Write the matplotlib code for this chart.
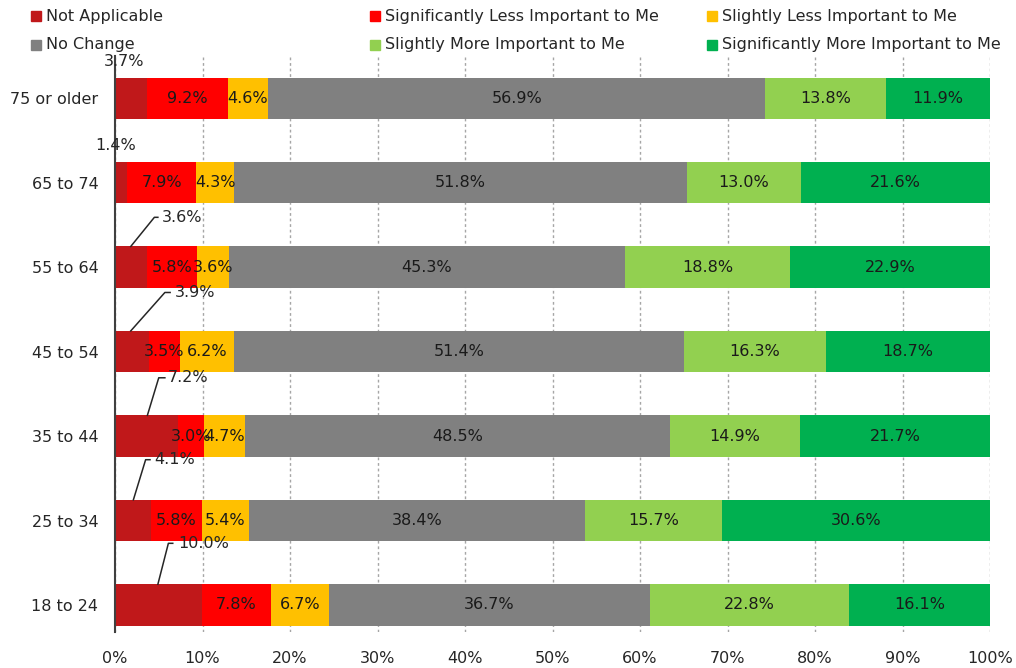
import numpy as np
import matplotlib.pyplot as plt
from matplotlib.patches import Rectangle

# data
categories = ['75 or older', '65 to 74', '55 to 64', '45 to 54', '35 to 44', '25 to 34', '18 to 24']
series = ['Not Applicable', 'Significantly Less Important to Me', 'Slightly Less Important to Me',
          'No Change', 'Slightly More Important to Me', 'Significantly More Important to Me']
not_applicable = [3.7, 1.4, 3.6, 3.9, 7.2, 4.1, 10.0]
sig_less = [9.2, 7.9, 5.8, 3.5, 3.0, 5.8, 7.8]
slight_less = [4.6, 4.3, 3.6, 6.2, 4.7, 5.4, 6.7]
no_change = [56.9, 51.8, 45.3, 51.4, 48.5, 38.4, 36.7]
slight_more = [13.8, 13.0, 18.8, 16.3, 14.9, 15.7, 22.8]
sig_more = [11.9, 21.6, 22.9, 18.7, 21.7, 30.6, 16.1]
x_ticks = [0, 10, 20, 30, 40, 50, 60, 70, 80, 90, 100]

colors = ['#C0181A', '#FF0000', '#FFC000', '#808080', '#92D050', '#00B050']

# layout of the "Not Applicable" callouts (data units)
# (x_start, x_elbow, x_end, x_label, dy_label, ha)
na_layout = {
    '75 or older': (None, None, None, 1.0, 0.43, 'center'),
    '65 to 74': (None, None, None, 0.1, 0.44, 'center'),
    '55 to 64': (1.8, 4.5, 4.9, 5.3, 0.59, 'left'),
    '45 to 54': (1.8, 5.7, 6.3, 6.8, 0.70, 'left'),
    '35 to 44': (3.7, 5.0, 5.7, 6.0, 0.69, 'left'),
    '25 to 34': (2.1, 3.5, 4.0, 4.5, 0.72, 'left'),
    '18 to 24': (4.9, 6.1, 6.6, 7.2, 0.73, 'left'),
}

FS = 11.5
plt.rcParams['font.family'] = 'DejaVu Sans'

raw = np.array([not_applicable, sig_less, slight_less, no_change, slight_more, sig_more])
values = raw / raw.sum(axis=0) * 100  # 100% stacked

fig = plt.figure(figsize=(10.16, 6.68), dpi=100)
ax = fig.add_axes([115 / 1016, 36 / 668, 875 / 1016, 576 / 668])

n = len(categories)
ypos = np.arange(n)[::-1]
bar_h = 0.49
left = np.zeros(n)
for s, name in enumerate(series):
    vals = values[s]
    ax.barh(ypos, vals, left=left, height=bar_h, color=colors[s], label=name, zorder=2)
    for i in range(n):
        if s == 0:
            xs, xe, xend, xl, dy, ha = na_layout[categories[i]]
            yl = ypos[i] + dy
            if xs is not None:
                ax.plot([xs, xe, xend], [ypos[i] + bar_h / 2, yl, yl], color='#262626', lw=1.1, zorder=3)
            ax.text(xl, yl, f'{raw[s][i]:.1f}%', ha=ha, va='center', fontsize=FS, color='#262626', zorder=4)
        else:
            ax.text(left[i] + vals[i] / 2, ypos[i], f'{raw[s][i]:.1f}%', ha='center', va='center',
                    fontsize=FS, color='#1a1a1a', zorder=4)
    left += vals

ax.set_xlim(0, 100)
ax.set_ylim(-0.32, 6.5)
ax.set_yticks(ypos)
ax.set_yticklabels(categories, fontsize=FS, color='#262626')
ax.set_xticks(x_ticks)
ax.set_xticklabels([f'{t}%' for t in x_ticks], fontsize=FS, color='#262626')
ax.tick_params(axis='y', length=0, pad=12)
ax.tick_params(axis='x', length=0, pad=14)
ax.xaxis.grid(True, linestyle=(0, (2, 2)), color='#a6a6a6', lw=1)
ax.set_axisbelow(True)
for sp in ['top', 'right', 'bottom']:
    ax.spines[sp].set_visible(False)
ax.spines['left'].set_color('#404040')
ax.spines['left'].set_linewidth(1.5)

# legend, laid out in equal columns
leg_x = [31, 370, 707]
leg_y = [16, 45]
for k, name in enumerate(series):
    r, c = divmod(k, 3)
    x0, y0 = leg_x[c], leg_y[r]
    fig.patches.append(Rectangle((x0 / 1016, 1 - (y0 + 5) / 668), 10 / 1016, 10 / 668,
                                 transform=fig.transFigure, color=colors[k], figure=fig))
    fig.text((x0 + 15) / 1016, 1 - y0 / 668, name, ha='left', va='center', fontsize=FS, color='#262626')

fig.savefig('out.png', dpi=100)
